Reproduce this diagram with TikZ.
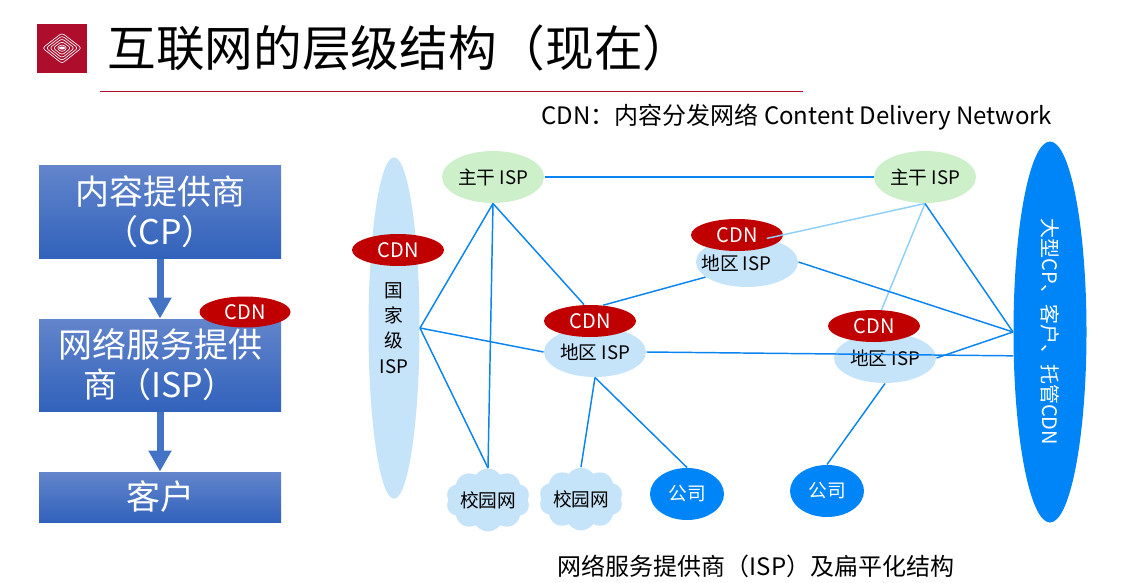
\documentclass[tikz,border=0pt]{standalone}
\usepackage{fontspec}
\setmainfont{Noto Sans CJK SC}
\usetikzlibrary{shapes.geometric,shapes.symbols,arrows.meta}
\definecolor{titlered}{HTML}{AE0D2C}
\definecolor{cdnred}{HTML}{C00000}
\definecolor{linkblue}{HTML}{0A84F0}
\definecolor{linklight}{HTML}{8FD0F8}
\definecolor{strongblue}{HTML}{0085F8}
\definecolor{paleblue}{HTML}{C5E3F9}
\definecolor{palegreen}{HTML}{CDF0CB}
\definecolor{boxtop}{HTML}{6385CC}
\definecolor{boxbottom}{HTML}{3162BB}
\definecolor{flowblue}{HTML}{4472C4}
\tikzset{every picture/.style={line width=0.75pt},
  layerbox/.style={draw=none,top color=boxtop,bottom color=boxbottom,text=white,minimum width=181.5pt,inner sep=0pt,align=center,font=\fontsize{25.5}{30}\selectfont},
  flowarrow/.style={draw=flowblue,line width=5.25pt,-{Triangle[length=15.75pt,width=16.5pt]}},
  link/.style={draw=linkblue,line width=1.1pt},
  linkpale/.style={draw=linklight,line width=1.1pt},
  cdnmark/.style={ellipse,fill=cdnred,text=white,minimum width=69pt,minimum height=24pt,inner sep=0pt,font=\fontsize{15}{18}\selectfont},
  backbone/.style={ellipse,fill=palegreen,minimum width=76.5pt,minimum height=39pt,inner sep=0pt,font=\fontsize{14}{17}\selectfont},
  regional/.style={ellipse,fill=paleblue,minimum width=76.5pt,minimum height=37.5pt,inner sep=0pt,font=\fontsize{14}{17}\selectfont},
  company/.style={ellipse,fill=strongblue,text=white,minimum width=55.5pt,minimum height=39pt,inner sep=0pt,font=\fontsize{14}{17}\selectfont},
  campus/.style={cloud,cloud puffs=10,cloud puff arc=110,aspect=1.5,fill=paleblue,minimum width=60pt,minimum height=39pt,inner sep=0pt,font=\fontsize{14}{17}\selectfont}}
\begin{document}
\begin{tikzpicture}[x=0.75pt,y=0.75pt,yscale=-1,xscale=1]
\useasboundingbox (0,0) rectangle (1139,582);
% Logo
\fill [titlered] (37,24) rectangle (87,73);
\foreach \s in {1,0.82,0.64,0.46,0.28} {
\draw [white,line width=0.5pt,rounded corners=2pt] (62-19.5*\s,48) -- (62,33+15.5*1-15.5*\s) -- (62+19.5*\s,48) -- (62,48+15.5*\s) -- cycle;
}
\fill [white] (62,48) ellipse (3 and 1.5);
% Title
\node (title) [anchor=west,inner sep=0pt,font=\fontsize{36.5}{44}\selectfont] at (107,48) {互联网的层级结构（现在）};
\draw [titlered,line width=1.1pt] (100,91.5) -- (803,91.5);
% Text Node
\node (cdnnote) [anchor=west,inner sep=0pt,font=\fontsize{18}{22}\selectfont] at (541,117) {CDN：内容分发网络 Content Delivery Network};
\node (caption) [inner sep=0pt,font=\fontsize{18}{22}\selectfont] at (756,566) {网络服务提供商（ISP）及扁平化结构};
% Left boxes
\node (cpbox) [layerbox,minimum height=69.75pt] at (160,211.5) {内容提供商\\（CP）};
\node (ispbox) [layerbox,minimum height=69pt] at (160,365) {网络服务提供\\商（ISP）};
\node (userbox) [layerbox,minimum height=37.5pt] at (160,497) {客户};
\draw [flowarrow] (cpbox) -- (ispbox);
\draw [flowarrow] (ispbox) -- (userbox);
\node (cdnleft) [cdnmark,minimum height=23.25pt,minimum width=68.25pt] at (245,312) {CDN};
% Tiers
\node (national) [ellipse,fill=paleblue,minimum width=38.25pt,minimum height=256pt,inner sep=0pt,align=center,font=\fontsize{14}{19}\selectfont] at (394,328) {国\\家\\级\\ISP};
\node (large) [ellipse,fill=strongblue,minimum width=54.75pt,minimum height=285.75pt,inner sep=0pt,label={[rotate=-90,text=white,inner sep=0pt,font=\fontsize{15}{18}\selectfont]center:大型CP、客户、托管CDN}] at (1050,332) {};
\node (backa) [backbone] at (493,177) {主干 ISP};
\node (backb) [backbone] at (925,177) {主干 ISP};
\node (regb) [regional,label={[xshift=-8pt,yshift=-1pt,inner sep=0pt,font=\fontsize{14}{17}\selectfont]center:地区 ISP}] at (747,262) {};
\node (regc) [regional] at (885,358) {地区 ISP};
\node (rega) [regional] at (595,352) {地区 ISP};
\node (cdnn) [cdnmark] at (398,250) {CDN};
\node (cdnb) [cdnmark] at (737,235) {CDN};
\node (cdnc) [cdnmark] at (874,326) {CDN};
\node (cdna) [cdnmark] at (590,321) {CDN};
\node (campa) [campus] at (488,500) {校园网};
\node (campb) [campus] at (581,499) {校园网};
\node (compa) [company] at (687,494) {公司};
\node (compb) [company] at (827,491) {公司};
% Straight Lines
\draw [link] (backa) -- (backb);
\draw [link] (backa.south) -- (national.east);
\draw [link] (backa.south) -- (campa.north);
\draw [link] (backa.south) -- (cdna.110);
\draw [link] (national.east) -- (campa.north);
\draw [link] (national.east) -- (rega.west);
\draw [link] (cdna.50) -- (regb.200);
\draw [linkpale] (regb.50) -- (backb.south);
\draw [linkpale] (cdnc.65) -- (backb.south);
\draw [link] (backb.south) -- (large.west);
\draw [link] (regb.east) -- (large.west);
\draw [link] (regc.east) -- (large.west);
\draw [link] (rega.east) -- (large.213);
\draw [link] (rega.south) -- (campb.north);
\draw [link] (rega.south) -- (compa.north);
\draw [link] (regc.south) -- (compb.north);
\end{tikzpicture}
\end{document}
